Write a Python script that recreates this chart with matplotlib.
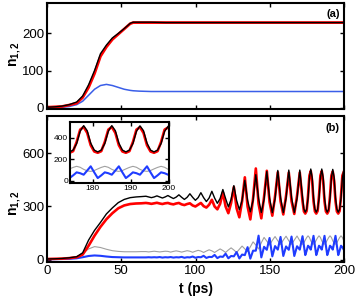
import matplotlib
matplotlib.use("Agg")
import matplotlib.pyplot as plt

plt.rcParams["font.family"] = ["Liberation Sans", "DejaVu Sans"]
plt.rcParams["mathtext.fontset"] = "custom"
plt.rcParams["mathtext.rm"] = "Liberation Sans"
plt.rcParams["mathtext.bf"] = "Liberation Sans:bold"

# ---- panel (a): smooth switch-on -------------------------------------------
t_a = [0, 5, 10, 15, 20, 24, 28, 32, 36, 40, 44, 48, 52, 56, 58, 62, 70, 80, 100, 150, 200]
black_a = [2, 3, 5, 9, 16, 32, 62, 100, 145, 168, 187, 199, 212, 226, 229, 229, 229, 228, 228, 228, 228]
red_a = [2, 3, 4, 8, 13, 28, 55, 92, 138, 163, 183, 197, 211, 225, 228, 228, 228, 228, 228, 228, 228]
blue_a = [1, 1, 2, 4, 9, 18, 34, 50, 60, 63, 60, 55, 50, 47, 46, 45, 44, 44, 44, 44, 44]

# ---- panel (b): switch-on followed by oscillations -------------------------
t_b = [0, 5, 10, 15, 20, 24, 28, 32, 36, 40, 44, 48, 52, 56, 60, 63.5,
       66.6, 68.45, 70.3, 72.15, 74.0, 75.85, 77.7, 79.55, 81.4, 83.25, 85.1, 86.95,
       88.8, 90.65, 92.5, 94.35, 96.2, 98.05, 99.9, 101.75, 103.6, 105.45, 107.3, 109.15,
       111.0, 112.85, 114.7, 116.55, 118.4, 120.25, 122.1, 123.95, 125.8, 127.65, 129.5, 131.35,
       133.2, 135.05, 136.9, 138.75, 140.6, 142.45, 144.3, 146.15, 148.0, 149.85, 151.7, 153.55,
       155.4, 157.25, 159.1, 160.95, 162.8, 164.65, 166.5, 168.35, 170.2, 172.05,
       172.98, 173.9, 174.83, 175.75, 176.68, 177.6,
       178.53, 179.45, 180.38, 181.3, 182.23, 183.15, 184.08, 185.0,
       185.93, 186.85, 187.78, 188.7, 189.63, 190.55, 191.48, 192.4,
       193.33, 194.25, 195.18, 196.1, 197.03, 197.95, 198.88, 199.8]

black_b = [3, 4, 6, 10, 16, 38, 110, 165, 210, 258, 292, 322, 340, 350, 354, 356,
           358, 354, 350, 354, 360, 354, 348, 354, 362, 353, 345, 353,
           366, 352, 340, 352, 372, 352, 335, 350, 378, 350, 328, 348,
           386, 348, 318, 345, 396, 345, 298, 340, 418, 335, 282, 335,
           448, 335, 270, 335, 480, 345, 266, 340, 498, 348, 265, 342,
           504, 350, 265, 345, 506, 350, 266, 345, 506, 350,
           285, 268, 285, 345, 460, 512,
           465, 350, 285, 268, 285, 345, 460, 512,
           465, 350, 285, 268, 285, 345, 460, 510,
           465, 350, 285, 268, 285, 345, 460, 505]

red_b = [3, 4, 5, 8, 13, 28, 78, 135, 185, 228, 262, 290, 306, 314, 317, 318,
         320, 318, 315, 318, 321, 317, 314, 318, 320, 315, 312, 317,
         320, 312, 308, 314, 318, 306, 300, 310, 320, 302, 294, 310,
         338, 300, 284, 315, 380, 300, 262, 320, 410, 290, 239, 330,
         465, 300, 227, 345, 515, 315, 233, 355, 502, 325, 248, 358,
         494, 330, 255, 360, 492, 330, 258, 360, 492, 330,
         272, 260, 275, 360, 475, 500,
         445, 330, 272, 260, 275, 360, 475, 500,
         445, 330, 272, 260, 275, 360, 475, 498,
         445, 330, 272, 260, 275, 360, 475, 495]

gray_b = [2, 3, 5, 8, 15, 35, 60, 73, 68, 58, 50, 46, 44, 44, 44, 45,
          45, 43, 45, 47, 45, 43, 45, 47, 46, 42, 46, 49,
          46, 42, 46, 50, 47, 41, 47, 52, 48, 40, 48, 55,
          49, 40, 50, 60, 51, 40, 54, 66, 54, 40, 58, 76,
          60, 45, 72, 100, 82, 60, 95, 125, 104, 82, 108, 130,
          106, 85, 110, 132, 106, 86, 110, 133, 106, 86,
          95, 110, 124, 134, 125, 106,
          92, 87, 95, 110, 124, 134, 125, 106,
          92, 87, 95, 110, 124, 134, 125, 106,
          92, 87, 95, 110, 124, 134, 125, 106]

blue_b = [1, 2, 3, 4, 7, 13, 20, 23, 21, 17, 14, 13, 12, 12, 12, 12,
          12, 13, 12, 13, 12, 14, 11, 13, 12, 14, 11, 13,
          12, 15, 10, 13, 12, 17, 10, 14, 13, 21, 9, 15,
          14, 26, 8, 17, 15, 33, 7, 20, 18, 42, 6, 28,
          25, 70, 5, 50, 50, 135, 12, 72, 55, 122, 18, 76,
          56, 128, 20, 74, 55, 130, 20, 75, 56, 132,
          78, 25, 50, 78, 70, 56,
          95, 134, 78, 25, 50, 78, 70, 56,
          95, 134, 78, 25, 50, 78, 70, 56,
          95, 134, 78, 25, 50, 78, 70, 56]

x_ticks = [0, 50, 100, 150, 200]
inset_xticks = [180, 190, 200]

RED = "#ff0000"
BLUE = "#1f3cff"
GRAY = "#a0a0a0"


def style(ax, size, pad=2):
    ax.tick_params(direction="in", top=True, right=True, length=3, width=1,
                   labelsize=size, pad=pad)
    for s in ax.spines.values():
        s.set_linewidth(1.5)


fig = plt.figure(figsize=(3.57, 2.98), dpi=100)
ax_a = fig.add_axes([0.1317, 0.6326, 0.832, 0.357])
ax_b = fig.add_axes([0.1317, 0.1208, 0.832, 0.490])
ax_in = fig.add_axes([0.196, 0.3859, 0.277, 0.2047])

# (a)
ax_a.plot(t_a, blue_a, color="#3a5ee8", lw=1.1)
ax_a.plot(t_a, red_a, color=RED, lw=2.0)
ax_a.plot(t_a, black_a, color="black", lw=1.0)
ax_a.set_xlim(0, 200)
ax_a.set_ylim(-4, 280)
ax_a.set_xticks(x_ticks)
ax_a.set_xticklabels([])
ax_a.set_yticks([0, 100, 200])
style(ax_a, 9.5)
ax_a.text(0.985, 0.94, "(a)", transform=ax_a.transAxes, ha="right", va="top",
          fontsize=8, fontweight="bold")
ax_a.set_ylabel(r"$\mathbf{n_{1,2}}$", fontsize=10)
ax_a.yaxis.set_label_coords(-0.08, 0.52)

# (b) and its zoomed inset show the same series
for ax in (ax_b, ax_in):
    ax.plot(t_b, gray_b, color=GRAY, lw=0.8)
    ax.plot(t_b, blue_b, color=BLUE, lw=1.5)
    ax.plot(t_b, red_b, color=RED, lw=1.9)
    ax.plot(t_b, black_b, color="black", lw=1.0)

ax_b.set_xlim(0, 200)
ax_b.set_ylim(-14, 812)
ax_b.set_xticks(x_ticks)
ax_b.set_yticks([0, 300, 600])
style(ax_b, 9.5)
ax_b.text(0.985, 0.955, "(b)", transform=ax_b.transAxes, ha="right", va="top",
          fontsize=8, fontweight="bold")
ax_b.set_xlabel("t (ps)", fontsize=10, fontweight="bold", labelpad=4)
ax_b.set_ylabel(r"$\mathbf{n_{1,2}}$", fontsize=10)
ax_b.yaxis.set_label_coords(-0.08, 0.40)

ax_in.set_facecolor("white")
ax_in.set_xlim(174, 200)
ax_in.set_ylim(-21, 546)
ax_in.set_xticks(inset_xticks)
ax_in.set_yticks([0, 200, 400])
style(ax_in, 6, pad=1.5)

fig.savefig("out.png", dpi=100)
